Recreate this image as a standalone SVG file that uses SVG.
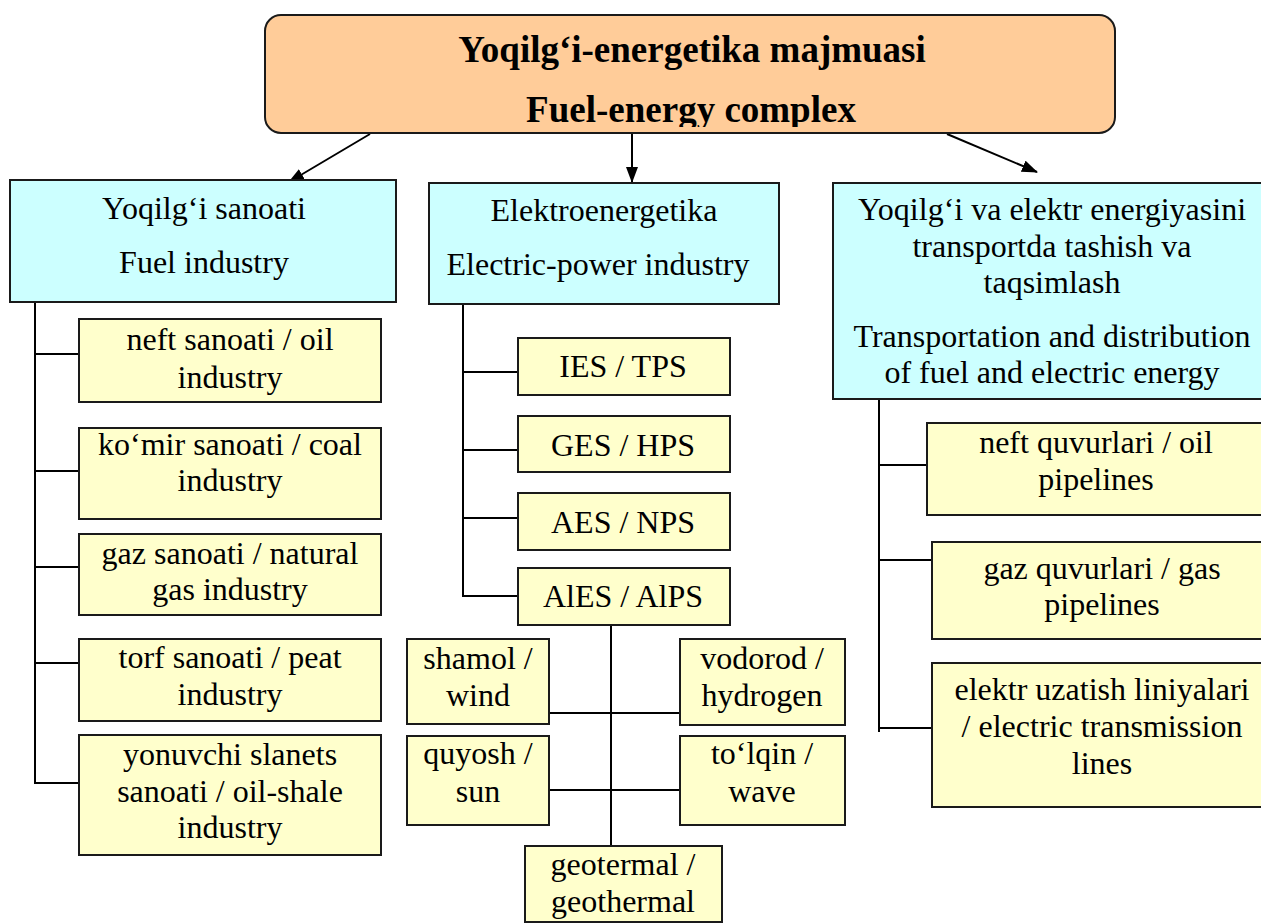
<svg xmlns="http://www.w3.org/2000/svg" width="1261" height="923" viewBox="0 0 1261 923">
  <style>
    .box { stroke: #1a1a1a; stroke-width: 2; }
    .top { fill: #FFCC99; }
    .main { fill: #CCFFFF; }
    .sub { fill: #FFFFCC; }
    .t { font-family: "Liberation Serif", "Times New Roman", serif; font-size: 32px; fill: #000; text-anchor: middle; }
    .title { font-family: "Liberation Serif", "Times New Roman", serif; font-size: 37px; font-weight: bold; fill: #000; text-anchor: middle; }
    .ln { stroke: #000; stroke-width: 2; fill: none; }
  </style>
  <defs>
    <marker id="ah" viewBox="0 0 16 12" refX="15" refY="6" markerWidth="16" markerHeight="12" markerUnits="userSpaceOnUse" orient="auto">
      <path d="M0,0 L16,6 L0,12 z" fill="#000"/>
    </marker>
    <clipPath id="titleClip">
      <rect x="265" y="15" width="850" height="112"/>
    </clipPath>
  </defs>

  <rect width="1261" height="923" fill="#fff"/>

  <!-- connectors -->
  <g id="connectors">
    <line class="ln" x1="370" y1="134" x2="289" y2="182" marker-end="url(#ah)"/>
    <line class="ln" x1="632" y1="134" x2="632" y2="182" marker-end="url(#ah)"/>
    <line class="ln" x1="947" y1="134" x2="1037" y2="172" marker-end="url(#ah)"/>

    <!-- fuel industry tree -->
    <line class="ln" x1="35" y1="302" x2="35" y2="784"/>
    <line class="ln" x1="35" y1="354" x2="79" y2="354"/>
    <line class="ln" x1="35" y1="471" x2="79" y2="471"/>
    <line class="ln" x1="35" y1="567" x2="79" y2="567"/>
    <line class="ln" x1="35" y1="663" x2="79" y2="663"/>
    <line class="ln" x1="35" y1="783" x2="79" y2="783"/>

    <!-- electric-power tree -->
    <line class="ln" x1="463" y1="304" x2="463" y2="597"/>
    <line class="ln" x1="463" y1="372" x2="518" y2="372"/>
    <line class="ln" x1="463" y1="450" x2="518" y2="450"/>
    <line class="ln" x1="463" y1="518" x2="518" y2="518"/>
    <line class="ln" x1="463" y1="596" x2="518" y2="596"/>

    <!-- alternative sources -->
    <line class="ln" x1="611" y1="619" x2="611" y2="847"/>
    <line class="ln" x1="549" y1="713" x2="680" y2="713"/>
    <line class="ln" x1="549" y1="790" x2="680" y2="790"/>

    <!-- transportation tree -->
    <line class="ln" x1="879" y1="395" x2="879" y2="732"/>
    <line class="ln" x1="879" y1="465" x2="927" y2="465"/>
    <line class="ln" x1="879" y1="560" x2="932" y2="560"/>
    <line class="ln" x1="879" y1="728" x2="932" y2="728"/>
  </g>

  <!-- root -->
  <g id="root">
    <rect class="box top" x="265" y="15" width="850" height="118" rx="16"/>
    <g clip-path="url(#titleClip)">
      <text class="title" x="692" y="62">Yoqilg‘i-energetika majmuasi</text>
      <text class="title" x="691" y="122">Fuel-energy complex</text>
    </g>
  </g>

  <!-- fuel industry -->
  <g id="fuel-industry">
    <rect class="box main" x="10" y="180" width="386" height="122"/>
    <text class="t" x="204" y="219">Yoqilg‘i sanoati</text>
    <text class="t" x="204" y="273">Fuel industry</text>
  </g>
  <g id="oil-industry">
    <rect class="box sub" x="79" y="319" width="302" height="83"/>
    <text class="t" x="230" y="350">neft sanoati / oil</text>
    <text class="t" x="230" y="388">industry</text>
  </g>
  <g id="coal-industry">
    <rect class="box sub" x="79" y="428" width="302" height="91"/>
    <text class="t" x="230" y="455">ko‘mir sanoati / coal</text>
    <text class="t" x="230" y="491">industry</text>
  </g>
  <g id="gas-industry">
    <rect class="box sub" x="79" y="534" width="302" height="81"/>
    <text class="t" x="230" y="564">gaz sanoati / natural</text>
    <text class="t" x="230" y="600">gas industry</text>
  </g>
  <g id="peat-industry">
    <rect class="box sub" x="79" y="639" width="302" height="82"/>
    <text class="t" x="230" y="668">torf sanoati / peat</text>
    <text class="t" x="230" y="705">industry</text>
  </g>
  <g id="oil-shale-industry">
    <rect class="box sub" x="79" y="735" width="302" height="120"/>
    <text class="t" x="230" y="765">yonuvchi slanets</text>
    <text class="t" x="230" y="802">sanoati / oil-shale</text>
    <text class="t" x="230" y="838">industry</text>
  </g>

  <!-- electric-power industry -->
  <g id="electric-power">
    <rect class="box main" x="429" y="183" width="350" height="121"/>
    <text class="t" x="604" y="221">Elektroenergetika</text>
    <text class="t" x="598" y="275">Electric-power industry</text>
  </g>
  <g id="tps">
    <rect class="box sub" x="518" y="338" width="212" height="57"/>
    <text class="t" x="623" y="377">IES / TPS</text>
  </g>
  <g id="hps">
    <rect class="box sub" x="518" y="416" width="212" height="56"/>
    <text class="t" x="623" y="456">GES / HPS</text>
  </g>
  <g id="nps">
    <rect class="box sub" x="518" y="493" width="212" height="57"/>
    <text class="t" x="623" y="533">AES / NPS</text>
  </g>
  <g id="alps">
    <rect class="box sub" x="518" y="568" width="212" height="57"/>
    <text class="t" x="623" y="607">AlES / AlPS</text>
  </g>
  <g id="wind">
    <rect class="box sub" x="407" y="639" width="142" height="85"/>
    <text class="t" x="478" y="669">shamol /</text>
    <text class="t" x="478" y="706">wind</text>
  </g>
  <g id="hydrogen">
    <rect class="box sub" x="680" y="639" width="165" height="86"/>
    <text class="t" x="762" y="669">vodorod /</text>
    <text class="t" x="762" y="706">hydrogen</text>
  </g>
  <g id="sun">
    <rect class="box sub" x="407" y="736" width="142" height="89"/>
    <text class="t" x="478" y="764">quyosh /</text>
    <text class="t" x="478" y="802">sun</text>
  </g>
  <g id="wave">
    <rect class="box sub" x="680" y="736" width="165" height="89"/>
    <text class="t" x="762" y="764">to‘lqin /</text>
    <text class="t" x="762" y="802">wave</text>
  </g>
  <g id="geothermal">
    <rect class="box sub" x="525" y="846" width="197" height="76"/>
    <text class="t" x="623" y="875">geotermal /</text>
    <text class="t" x="623" y="912">geothermal</text>
  </g>

  <!-- transportation and distribution -->
  <g id="transportation">
    <rect class="box main" x="833" y="183" width="440" height="216"/>
    <text class="t" x="1052" y="220">Yoqilg‘i va elektr energiyasini</text>
    <text class="t" x="1052" y="257">transportda tashish va</text>
    <text class="t" x="1052" y="293">taqsimlash</text>
    <text class="t" x="1052" y="347">Transportation and distribution</text>
    <text class="t" x="1052" y="383">of fuel and electric energy</text>
  </g>
  <g id="oil-pipelines">
    <rect class="box sub" x="927" y="423" width="346" height="92"/>
    <text class="t" x="1096" y="453">neft quvurlari / oil</text>
    <text class="t" x="1096" y="490">pipelines</text>
  </g>
  <g id="gas-pipelines">
    <rect class="box sub" x="932" y="542" width="341" height="97"/>
    <text class="t" x="1102" y="579">gaz quvurlari / gas</text>
    <text class="t" x="1102" y="615">pipelines</text>
  </g>
  <g id="transmission-lines">
    <rect class="box sub" x="932" y="663" width="341" height="144"/>
    <text class="t" x="1102" y="700">elektr uzatish liniyalari</text>
    <text class="t" x="1102" y="737">/ electric transmission</text>
    <text class="t" x="1102" y="774">lines</text>
  </g>
</svg>
